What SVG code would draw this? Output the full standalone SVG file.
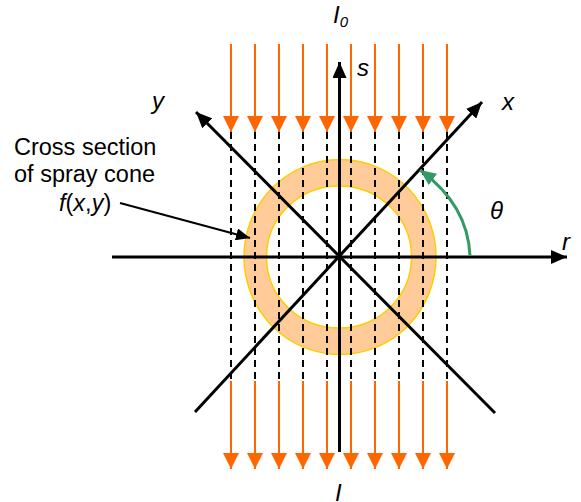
<svg xmlns="http://www.w3.org/2000/svg" width="581" height="502" viewBox="0 0 581 502">
<style>
.beam{stroke:#FF6600;stroke-width:2;fill:none}
.dash{stroke:#000;stroke-width:2;stroke-dasharray:7,5;fill:none}
.axis{stroke:#000;stroke-width:3;fill:none}
.lbl{font-family:"Liberation Sans",Arial,sans-serif;font-size:23.5px;fill:#000}
.sym{font-family:"Liberation Sans",Arial,sans-serif;font-size:24px;font-style:italic;fill:#000}
.it{font-style:italic}
</style>
<defs>
<marker id="oh" markerUnits="userSpaceOnUse" markerWidth="16" markerHeight="16" refX="16" refY="8" orient="auto" viewBox="0 0 16 16"><path d="M0,0 L16,8 L0,16 Z" fill="#FF6600"/></marker>
<marker id="bh" markerUnits="userSpaceOnUse" markerWidth="16" markerHeight="14" refX="16" refY="7" orient="auto" viewBox="0 0 16 14"><path d="M0,0 L16,7 L0,14 Z" fill="#000"/></marker>
<marker id="sh" markerUnits="userSpaceOnUse" markerWidth="14" markerHeight="12" refX="14" refY="6" orient="auto" viewBox="0 0 14 12"><path d="M0,0 L14,6 L0,12 Z" fill="#000"/></marker>
<marker id="gh" markerUnits="userSpaceOnUse" markerWidth="16" markerHeight="14" refX="16" refY="7" orient="auto" viewBox="0 0 16 14"><path d="M0,0 L16,7 L0,14 Z" fill="#339966"/></marker>
</defs>
<g id="ring">
<path d="M244,257 a96,97.5 0 1,0 192,0 a96,97.5 0 1,0 -192,0 Z M266.5,257 a72.5,71 0 1,0 145,0 a72.5,71 0 1,0 -145,0 Z" fill="#FFCC99" fill-rule="evenodd" stroke="#FFCC00" stroke-width="1.5"/>
</g>
<g id="connectors">
<g id="beams-in">
<line class="beam" x1="231" y1="44" x2="231" y2="132" marker-end="url(#oh)"/>
<line class="beam" x1="255" y1="44" x2="255" y2="132" marker-end="url(#oh)"/>
<line class="beam" x1="279" y1="44" x2="279" y2="132" marker-end="url(#oh)"/>
<line class="beam" x1="303" y1="44" x2="303" y2="132" marker-end="url(#oh)"/>
<line class="beam" x1="327" y1="44" x2="327" y2="132" marker-end="url(#oh)"/>
<line class="beam" x1="351" y1="44" x2="351" y2="132" marker-end="url(#oh)"/>
<line class="beam" x1="375" y1="44" x2="375" y2="132" marker-end="url(#oh)"/>
<line class="beam" x1="399" y1="44" x2="399" y2="132" marker-end="url(#oh)"/>
<line class="beam" x1="423" y1="44" x2="423" y2="132" marker-end="url(#oh)"/>
<line class="beam" x1="447" y1="44" x2="447" y2="132" marker-end="url(#oh)"/>
</g>
<g id="rays">
<line class="dash" x1="231" y1="132" x2="231" y2="380"/>
<line class="dash" x1="255" y1="132" x2="255" y2="380"/>
<line class="dash" x1="279" y1="132" x2="279" y2="380"/>
<line class="dash" x1="303" y1="132" x2="303" y2="380"/>
<line class="dash" x1="327" y1="132" x2="327" y2="380"/>
<line class="dash" x1="351" y1="132" x2="351" y2="380"/>
<line class="dash" x1="375" y1="132" x2="375" y2="380"/>
<line class="dash" x1="399" y1="132" x2="399" y2="380"/>
<line class="dash" x1="423" y1="132" x2="423" y2="380"/>
<line class="dash" x1="447" y1="132" x2="447" y2="380"/>
</g>
<g id="beams-out">
<line class="beam" x1="231" y1="381" x2="231" y2="469" marker-end="url(#oh)"/>
<line class="beam" x1="255" y1="381" x2="255" y2="469" marker-end="url(#oh)"/>
<line class="beam" x1="279" y1="381" x2="279" y2="469" marker-end="url(#oh)"/>
<line class="beam" x1="303" y1="381" x2="303" y2="469" marker-end="url(#oh)"/>
<line class="beam" x1="327" y1="381" x2="327" y2="469" marker-end="url(#oh)"/>
<line class="beam" x1="351" y1="381" x2="351" y2="469" marker-end="url(#oh)"/>
<line class="beam" x1="375" y1="381" x2="375" y2="469" marker-end="url(#oh)"/>
<line class="beam" x1="399" y1="381" x2="399" y2="469" marker-end="url(#oh)"/>
<line class="beam" x1="423" y1="381" x2="423" y2="469" marker-end="url(#oh)"/>
<line class="beam" x1="447" y1="381" x2="447" y2="469" marker-end="url(#oh)"/>
</g>
<g id="axes">
<line class="axis" x1="112" y1="257" x2="567" y2="257" marker-end="url(#bh)"/>
<line class="axis" x1="339.5" y1="452" x2="339.5" y2="62" marker-end="url(#bh)"/>
<line class="axis" x1="195" y1="412" x2="482" y2="102" marker-end="url(#bh)"/>
<line class="axis" x1="495" y1="413" x2="196" y2="112" marker-end="url(#bh)"/>
</g>
<path d="M470,256 Q468,205 420,170" stroke="#339966" stroke-width="3" fill="none" marker-end="url(#gh)"/>
<line x1="120" y1="203" x2="250" y2="238" stroke="#000" stroke-width="2" marker-end="url(#sh)"/>
</g>
<g id="labels">
<text class="sym" font-size="21" x="333" y="23">I<tspan font-size="15" dy="4">0</tspan></text>
<text class="sym" x="357" y="76">s</text>
<text class="sym" x="152" y="109">y</text>
<text class="sym" x="502" y="110">x</text>
<text class="sym" x="562" y="250">r</text>
<text class="sym" font-size="23" x="490" y="219">θ</text>
<text class="sym" font-size="21" x="335" y="501">I</text>
<text class="lbl" x="14" y="155">Cross section</text>
<text class="lbl" x="14" y="182">of spray cone</text>
<text class="lbl" x="59" y="211"><tspan class="it">f</tspan>(<tspan class="it">x</tspan>,<tspan class="it">y</tspan>)</text>
</g>
</svg>
